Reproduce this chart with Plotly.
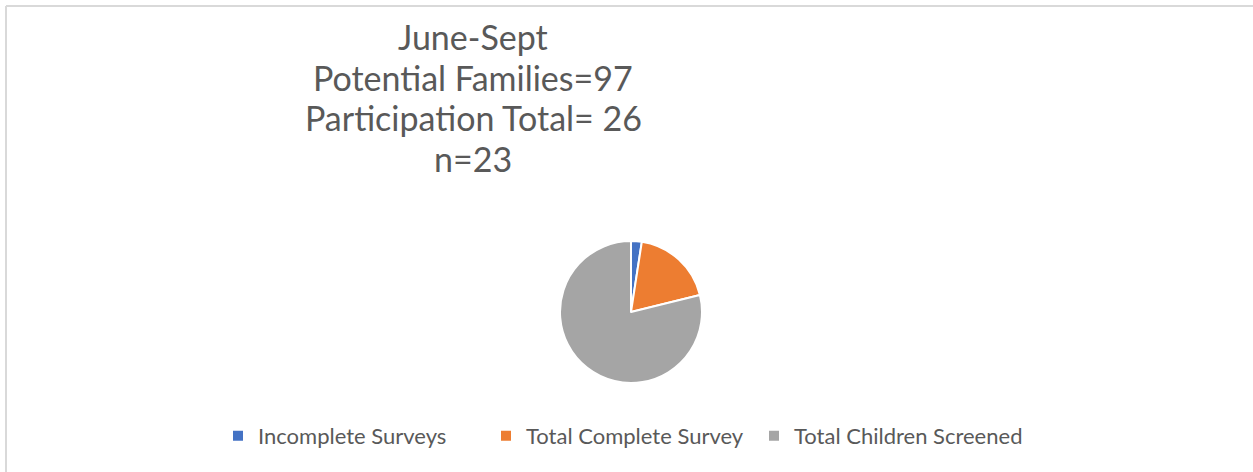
import plotly.graph_objects as go

labels = ["Incomplete Surveys", "Total Complete Survey", "Total Children Screened"]
values = [3, 23, 97]
colors = ["#4472C4", "#ED7D31", "#A5A5A5"]
title_lines = ["June-Sept", "Potential Families=97", "Participation Total= 26", "n=23"]

W, H = 1253, 472
cx, cy, r = 631, 312, 71
title_x = 473
title_y = [36, 77, 117, 158]

fig = go.Figure()
fig.add_trace(go.Pie(
    labels=labels,
    values=values,
    marker=dict(colors=colors, line=dict(color="white", width=2)),
    sort=False,
    direction="clockwise",
    rotation=0,
    textinfo="none",
    hoverinfo="label+value+percent",
    domain=dict(x=[(cx - r) / W, (cx + r) / W], y=[(H - cy - r) / H, (H - cy + r) / H]),
))

annotations = [dict(
    text=t,
    x=title_x / W, y=(H - yy) / H, xref="paper", yref="paper",
    xanchor="center", yanchor="middle", showarrow=False,
    font=dict(size=34, color="#595959"),
) for t, yy in zip(title_lines, title_y)]

fig.update_layout(
    width=W, height=H,
    margin=dict(l=0, r=0, t=0, b=0),
    paper_bgcolor="white",
    font=dict(family="Lato, 'Open Sans', sans-serif", color="#595959"),
    showlegend=True,
    legend=dict(
        orientation="h",
        x=218 / W, xanchor="left",
        y=(H - 436) / H, yanchor="middle",
        font=dict(size=22, color="#595959"),
        traceorder="normal",
        entrywidth=223,
        entrywidthmode="pixels",
    ),
    annotations=annotations,
    shapes=[
        dict(type="line", xref="paper", yref="paper", x0=6 / W, x1=1, y0=1 - 6 / H, y1=1 - 6 / H,
             line=dict(color="#D9D9D9", width=2)),
        dict(type="line", xref="paper", yref="paper", x0=6 / W, x1=6 / W, y0=0, y1=1 - 6 / H,
             line=dict(color="#D9D9D9", width=2)),
    ],
)

fig.write_html("out.html", config={"displayModeBar": False},
               post_script="document.body.style.margin='0';document.body.style.overflow='hidden';")
